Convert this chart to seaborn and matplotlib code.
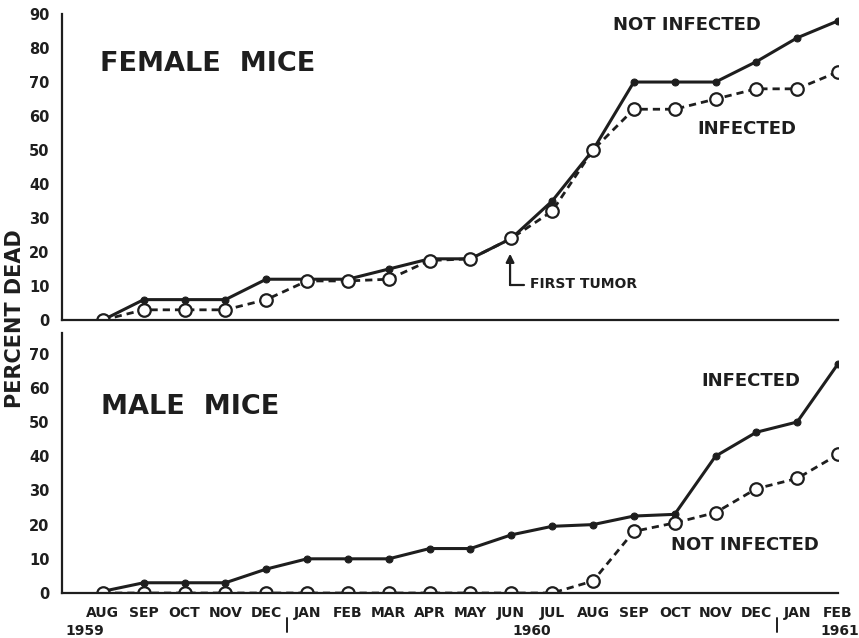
import pandas as pd
import matplotlib.pyplot as plt
import matplotlib.transforms as mtransforms
import seaborn as sns

# month axis, Aug 1959 .. Feb 1961
months = ['AUG', 'SEP', 'OCT', 'NOV', 'DEC', 'JAN', 'FEB', 'MAR', 'APR', 'MAY',
          'JUN', 'JUL', 'AUG', 'SEP', 'OCT', 'NOV', 'DEC', 'JAN', 'FEB']
idx = list(range(len(months)))

# female mice, percent dead
female_not_infected = [0, 6, 6, 6, 12, 12, 12, 15, 18, 18, 24, 35, 50, 70, 70, 70, 76, 83, 88]
female_infected = [0, 3, 3, 3, 6, 11.5, 11.5, 12, 17.5, 18, 24, 32, 50, 62, 62, 65, 68, 68, 73]

# male mice, percent dead
male_infected = [0.5, 3, 3, 3, 7, 10, 10, 10, 13, 13, 17, 19.5, 20, 22.5, 23, 40, 47, 50, 67]
male_not_infected = [0, 0, 0, 0, 0, 0, 0, 0, 0, 0, 0, 0, 3.5, 18, 20.5, 23.5, 30.5, 33.5, 40.5]

years = ['1959', '1960', '1961']

ink = '#1e1e1e'

sns.set_style('white')
plt.rcParams['font.family'] = ['DejaVu Sans']
plt.rcParams['font.weight'] = 'bold'

fig = plt.figure(figsize=(8.59, 6.38), dpi=100)
ax1 = fig.add_axes([0.0722, 0.4984, 0.9034, 0.4796])
ax2 = fig.add_axes([0.0722, 0.0705, 0.9034, 0.4075])


def draw_pair(ax, solid, dashed):
    df = pd.DataFrame({'m': idx, 'solid': solid, 'dashed': dashed})
    sns.lineplot(data=df, x='m', y='solid', ax=ax, color=ink, lw=2.2,
                 marker='o', markersize=5, markerfacecolor=ink,
                 markeredgecolor=ink)
    sns.lineplot(data=df, x='m', y='dashed', ax=ax, color=ink, lw=2.0,
                 linestyle=(0, (2.6, 1.8)), marker='o', markersize=9,
                 markerfacecolor='white', markeredgecolor=ink,
                 markeredgewidth=1.6)


draw_pair(ax1, female_not_infected, female_infected)
draw_pair(ax2, male_infected, male_not_infected)

for ax in (ax1, ax2):
    ax.set_xlim(-1, 18)
    sns.despine(ax=ax, top=True, right=True)
    for s in ('left', 'bottom'):
        ax.spines[s].set_color(ink)
        ax.spines[s].set_linewidth(1.6)
    ax.set_xlabel('')
    ax.set_ylabel('')
    ax.tick_params(axis='y', direction='out', length=6, width=1.2,
                   colors=ink, labelsize=10.5, pad=3)

ax1.set_ylim(0, 90)
ax1.set_yticks(range(0, 91, 10))
ax1.set_xticks([])

ax2.set_ylim(0, 76)
ax2.set_yticks(range(0, 71, 10))
ax2.set_xticks(idx)
ax2.set_xticklabels(months, fontsize=10, fontweight='bold')
ax2.tick_params(axis='x', direction='in', length=6, width=1.2,
                colors=ink, pad=9)

# year labels and year dividers under the month axis
trans = mtransforms.blended_transform_factory(ax2.transData, ax2.transAxes)
ax2.text(-0.45, -0.148, years[0], transform=trans, ha='center', va='center',
         fontsize=10, fontweight='bold', color=ink)
ax2.text(10.5, -0.148, years[1], transform=trans, ha='center', va='center',
         fontsize=10, fontweight='bold', color=ink)
ax2.text(18.05, -0.148, years[2], transform=trans, ha='center', va='center',
         fontsize=10, fontweight='bold', color=ink)
for xd in (4.5, 16.5):
    ax2.plot([xd, xd], [-0.097, -0.15], transform=trans, color=ink,
             lw=1.4, clip_on=False)

# panel titles and series labels
ax1.text(-0.07, 75.3, 'FEMALE  MICE', fontsize=19.5, fontweight='bold',
         color=ink, va='center', ha='left')
ax1.text(12.5, 86.8, 'NOT INFECTED', fontsize=13, fontweight='bold',
         color=ink, va='center', ha='left')
ax1.text(14.55, 56.2, 'INFECTED', fontsize=13, fontweight='bold',
         color=ink, va='center', ha='left')
ax1.text(10.45, 10.5, 'FIRST TUMOR', fontsize=10, fontweight='bold',
         color=ink, va='center', ha='left')
ax1.annotate('', xy=(9.97, 19.5), xytext=(9.97, 10.3),
             arrowprops=dict(arrowstyle='-|>', color=ink, lw=1.6,
                             mutation_scale=12, shrinkA=0, shrinkB=0))
ax1.plot([9.97, 10.3], [10.3, 10.3], color=ink, lw=1.6)

ax2.text(-0.05, 54.5, 'MALE  MICE', fontsize=19.5, fontweight='bold',
         color=ink, va='center', ha='left')
ax2.text(14.65, 61.9, 'INFECTED', fontsize=13, fontweight='bold',
         color=ink, va='center', ha='left')
ax2.text(13.9, 14.1, 'NOT INFECTED', fontsize=13, fontweight='bold',
         color=ink, va='center', ha='left')

fig.text(0.018, 0.5, 'PERCENT DEAD', rotation=90, fontsize=15,
         fontweight='bold', color=ink, ha='center', va='center')

fig.savefig('out.png', dpi=100)
